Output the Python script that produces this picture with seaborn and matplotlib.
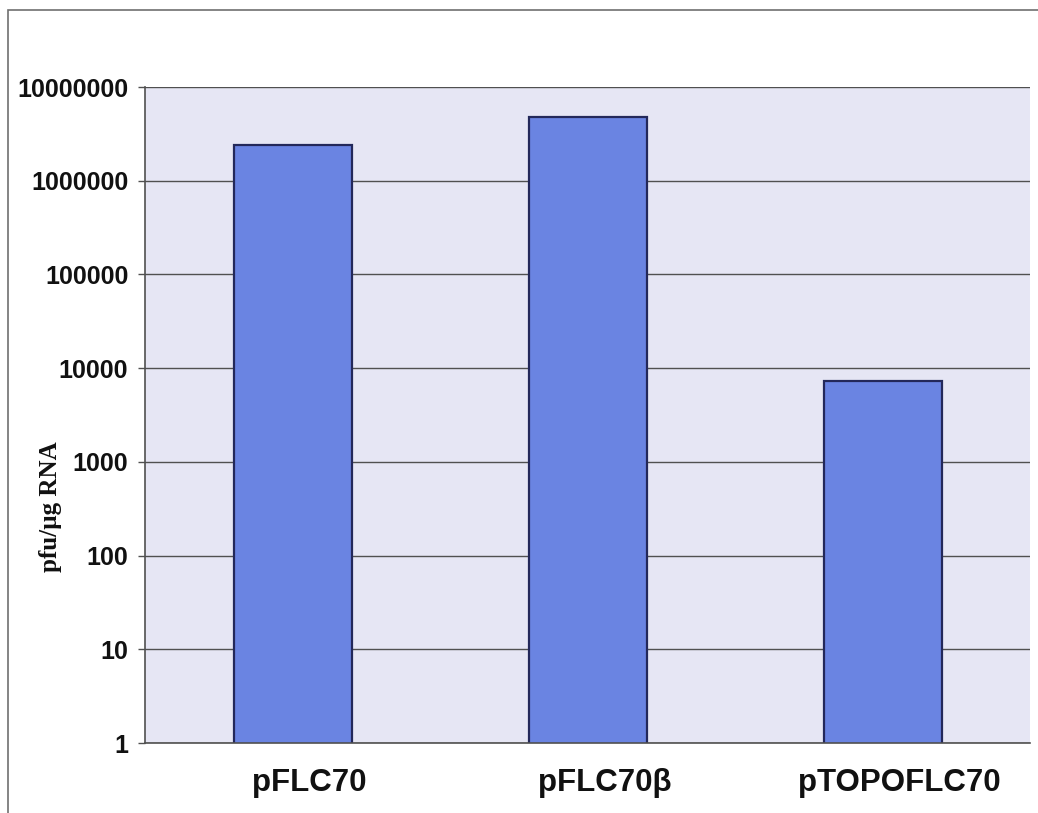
import matplotlib
matplotlib.use("Agg")
import matplotlib.pyplot as plt
import matplotlib.patches as mpatches
import matplotlib.ticker as mticker
import matplotlib.transforms as mtransforms
import seaborn as sns
import pandas as pd

# data
constructs = ["pFLC70", "pFLC70β", "pTOPOFLC70"]
pfu_per_ug = [2400000, 4800000, 7300]
ytick_vals = [1, 10, 100, 1000, 10000, 100000, 1000000, 10000000]

df = pd.DataFrame({"construct": constructs, "pfu": pfu_per_ug})

sns.set_style("white")
plt.rcParams["font.family"] = ["Liberation Sans", "DejaVu Sans"]

fig = plt.figure(figsize=(10.38, 8.13), dpi=100)
ax = fig.add_axes([145 / 1038, 70 / 813, 885 / 1038, 656 / 813])
ax.set_facecolor("#E6E6F4")

ax.set_yscale("log")
sns.barplot(data=df, x="construct", y="pfu", order=constructs, color="#6A84E2",
            saturation=1, width=0.4, edgecolor="#23285A", linewidth=1.6, ax=ax)

ax.set_ylim(1, 10000000)
ax.set_xlim(-0.5, 2.5)
ax.yaxis.set_major_locator(mticker.FixedLocator(ytick_vals))
ax.yaxis.set_minor_locator(mticker.NullLocator())
ax.set_yticklabels([str(v) for v in ytick_vals], fontsize=18, fontweight="bold", color="#111111")
ax.yaxis.grid(True, color="#505050", linewidth=1.0)
ax.set_axisbelow(True)

# category labels, tick marks between categories (Excel style)
ax.set_xticks(range(len(constructs)))
ax.set_xticklabels(constructs, fontsize=22.5, fontweight="bold", color="#111111")
ax.tick_params(axis="x", length=0, pad=18)
ax.set_xticks([-0.5, 0.5, 1.5, 2.5], minor=True)
ax.tick_params(axis="x", which="minor", length=5, color="#505050", width=1)
ax.tick_params(axis="y", length=5, color="#505050", width=1, pad=7, left=True)

# labels sit a little right of the bar centres in the original
shift = mtransforms.ScaledTranslation(17 / 100, 0, fig.dpi_scale_trans)
for lab in ax.get_xticklabels():
    lab.set_transform(lab.get_transform() + shift)

ax.set_xlabel("")
ax.set_ylabel("")
for side in ["top", "right"]:
    ax.spines[side].set_visible(False)
for side in ["left", "bottom"]:
    ax.spines[side].set_color("#505050")
    ax.spines[side].set_linewidth(1.2)

fig.text(50 / 1038, 1 - 507 / 813, "pfu/µg RNA", rotation=90, ha="center", va="center",
         fontsize=18, fontweight="bold", color="#111111",
         family=["Liberation Serif", "DejaVu Serif"])

# outer chart frame
fig.patches.append(mpatches.Rectangle((8 / 1038, -0.01), 1.0, 1 - 10 / 813 + 0.01,
                                      transform=fig.transFigure, fill=False,
                                      edgecolor="#707070", linewidth=1.2))

fig.savefig("out.png", dpi=100)
